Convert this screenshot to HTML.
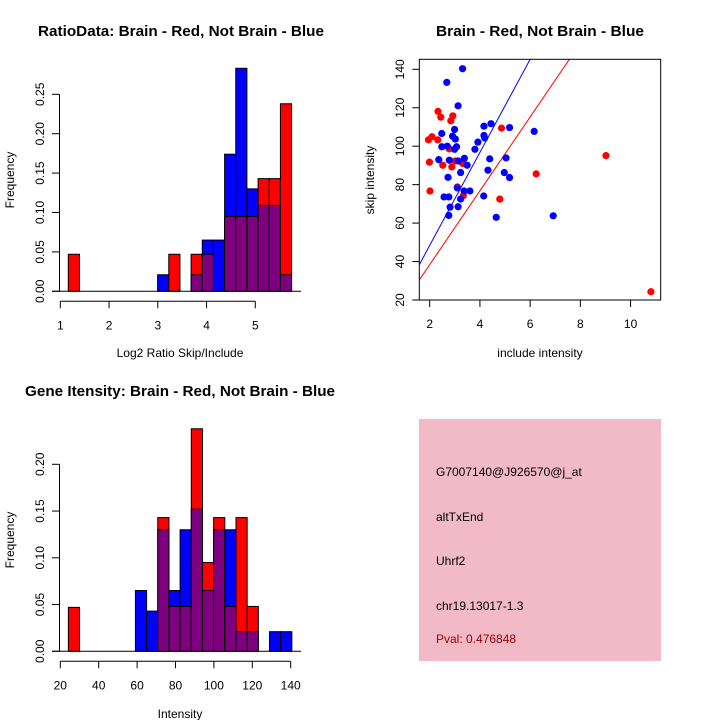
<!DOCTYPE html>
<html><head><meta charset="utf-8"><style>
html,body{margin:0;padding:0;background:#fff}
svg{display:block}
text{font-family:"Liberation Sans",sans-serif;font-size:12px;fill:#000}
.t{font-weight:bold;font-size:15px}
</style></head><body>
<svg id="s" width="720" height="720" viewBox="0 0 720 720">
<rect x="0" y="0" width="720" height="720" fill="#fff"/>
<text class="t" x="181" y="36" text-anchor="middle" textLength="286" lengthAdjust="spacingAndGlyphs">RatioData: Brain - Red, Not Brain - Blue</text>
<text x="180" y="357" text-anchor="middle">Log2 Ratio Skip/Include</text>
<text x="0" y="0" transform="translate(14,180) rotate(-90)" text-anchor="middle">Frequency</text>
<text class="t" x="540" y="36" text-anchor="middle" textLength="208" lengthAdjust="spacingAndGlyphs">Brain - Red, Not Brain - Blue</text>
<text x="540" y="357" text-anchor="middle">include intensity</text>
<text x="0" y="0" transform="translate(374,180) rotate(-90)" text-anchor="middle">skip intensity</text>
<text class="t" x="180" y="396" text-anchor="middle" textLength="310" lengthAdjust="spacingAndGlyphs">Gene Itensity: Brain - Red, Not Brain - Blue</text>
<text x="180" y="718" text-anchor="middle">Intensity</text>
<text x="0" y="0" transform="translate(14,540) rotate(-90)" text-anchor="middle">Frequency</text>
<g>
<rect x="419" y="419" width="242" height="242" fill="#f2b9c7"/>
<text x="436" y="476">G7007140@J926570@j_at</text>
<text x="436" y="521">altTxEnd</text>
<text x="436" y="565">Uhrf2</text>
<text x="436" y="610">chr19.13017-1.3</text>
<text x="436" y="643" style="fill:#a00000">Pval: 0.476848</text>
</g>
</svg>
<script>
// Ratio histogram data
const ratioBinStart = 1.164, ratioBinWidth = 0.229;
const ratioRed  = [0.047,0,0,0,0,0,0,0,0,0.047,0,0.047,0.047,0,0.095,0.095,0.095,0.143,0.143,0.238];
const ratioBlue = [0,0,0,0,0,0,0,0,0.021,0,0,0.021,0.065,0.065,0.174,0.283,0.130,0.109,0.109,0.021];
const ratioXTicks = [1,2,3,4,5];
const ratioYTicks = ["0.00","0.05","0.10","0.15","0.20","0.25"];
// Intensity histogram data
const intBinStart = 24.2, intBinWidth = 5.82;
const intRed  = [0.047,0,0,0,0,0,0,0,0.143,0.048,0.048,0.238,0.095,0.143,0.048,0.143,0.048,0,0,0];
const intBlue = [0,0,0,0,0,0,0.065,0.043,0.130,0.065,0.130,0.152,0.065,0.130,0.130,0.021,0.021,0,0.021,0.021];
const intXTicks = [20,40,60,80,100,120,140];
const intYTicks = ["0.00","0.05","0.10","0.15","0.20"];
// Scatter data
const blueInclude = [2.68,3.31,3.13,2.48,2.99,2.91,3.02,2.48,2.70,3.07,2.99,2.36,2.78,3.13,3.38,3.49,3.23,2.73,3.10,2.57,2.76,3.23,2.81,3.13,2.76,3.37,3.60,3.80,3.92,4.16,4.16,4.19,4.44,5.18,4.39,4.32,4.15,4.65,5.04,4.97,5.18,6.16,6.92];
const blueSkip = [133.2,140.3,121,106.6,108.7,105.2,103.7,99.7,100,99.7,98.4,93,92.7,92.3,93.7,90.1,86.3,83.8,78.3,73.6,73.6,72.5,68.3,68.5,64,76.7,76.7,98.4,102.1,110.4,105.6,104.3,111.7,109.7,93.4,87.5,74.1,63,93.9,86.3,83.7,107.7,63.8];
const redInclude = [1.95,2.09,2.32,2.33,2.44,2.84,2.92,1.99,2.01,2.52,2.78,2.88,3.01,3.31,3.10,3.34,4.86,4.79,6.24,9.02,10.81];
const redSkip = [103.3,104.9,103.3,118.1,115.1,113.2,115.8,91.7,76.7,90.1,98.6,89.2,92.3,91,78.8,74.3,109.4,72.5,85.6,95.1,24.3];
const lineSlopes = [24.2,19.2];
const lineColors = ["#0000ff","#ff0000"];
const scXTicks = [2,4,6,8,10];
const scYTicks = [20,40,60,80,100,120,140];

const NS="http://www.w3.org/2000/svg", svg=document.getElementById('s');
function mk(tag,attrs,parent){const e=document.createElementNS(NS,tag);for(const k in attrs)e.setAttribute(k,attrs[k]);(parent||svg).appendChild(e);return e;}

function hist(cfg){
  const g=mk('g',{});
  
  
  const X=v=>cfg.x0+(v-cfg.xv0)*cfg.xs, Y=v=>cfg.base-v*cfg.ys;
  mk('line',{x1:52,x2:301,y1:cfg.base,y2:cfg.base,stroke:'#000','stroke-width':1},g);
  cfg.red.forEach((r,i)=>{
    const b=cfg.blue[i]; const x1=X(cfg.start+i*cfg.w), x2=X(cfg.start+(i+1)*cfg.w);
    const hi=Math.max(r,b), lo=Math.min(r,b);
    if(hi>0){
      const e=mk('rect',{x:x1,y:Y(hi),width:x2-x1,height:cfg.base-Y(hi),fill:r>=b?'#ff0000':'#0000ff',stroke:'#000','stroke-width':1},g);
      
      
    }
    if(lo>0){
      const e=mk('rect',{x:x1,y:Y(lo),width:x2-x1,height:cfg.base-Y(lo),fill:'#7f007f',stroke:'#000','stroke-width':1},g);
      
      
    }
  });
  const ya=mk('g',{},g);
  
  
  const yv=cfg.yt.map(Number);
  mk('line',{x1:59.5,x2:59.5,y1:Y(yv[0]),y2:Y(yv[yv.length-1]),stroke:'#000'},ya);
  cfg.yt.forEach(t=>{const y=Y(Number(t));mk('line',{x1:52,x2:59.5,y1:y,y2:y,stroke:'#000'},ya);
    const tx=mk('text',{transform:`translate(44,${y}) rotate(-90)`,'text-anchor':'middle'},ya);tx.textContent=t;});
  const xa=mk('g',{},g);
  
  
  const ay=cfg.base+10;
  mk('line',{x1:X(cfg.xt[0]),x2:X(cfg.xt[cfg.xt.length-1]),y1:ay,y2:ay,stroke:'#000'},xa);
  cfg.xt.forEach(t=>{const x=X(t);mk('line',{x1:x,x2:x,y1:ay,y2:ay+7,stroke:'#000'},xa);
    const tx=mk('text',{x:x,y:ay+28,'text-anchor':'middle'},xa);tx.textContent=t;});
}
hist({name:'ratio-histogram',red:ratioRed,blue:ratioBlue,start:ratioBinStart,w:ratioBinWidth,x0:60.3,xv0:1,xs:48.75,base:291.3,ys:788,xt:ratioXTicks,yt:ratioYTicks});
hist({name:'intensity-histogram',red:intRed,blue:intBlue,start:intBinStart,w:intBinWidth,x0:60.3,xv0:20,xs:1.92,base:651.3,ys:935,xt:intXTicks,yt:intYTicks});

// scatter
(function(){
  const L=419.3,R=660.7,T=59.3,B=300;
  const xmin=1.585,xmax=11.2,ymin=20,ymax=145.2;
  const X=v=>L+(v-xmin)/(xmax-xmin)*(R-L), Y=v=>B-(v-ymin)/(ymax-ymin)*(B-T);
  const g=mk('g',{});
  
  
  const cp=mk('clipPath',{id:'cp'},g);
  mk('rect',{x:L,y:T,width:R-L,height:B-T},cp);
  lineSlopes.forEach((s,i)=>{
    const e=mk('line',{x1:X(xmin),y1:Y(s*xmin),x2:X(xmax),y2:Y(s*xmax),stroke:lineColors[i],'stroke-width':1,'clip-path':'url(#cp)'},g);
    
    
  });
  redInclude.forEach((v,i)=>{
    const e=mk('circle',{cx:X(v),cy:Y(redSkip[i]),r:3.6,fill:'#ff0000'},g);
    
    
  });
  blueInclude.forEach((v,i)=>{
    const e=mk('circle',{cx:X(v),cy:Y(blueSkip[i]),r:3.6,fill:'#0000ff'},g);
    
    
  });
  mk('rect',{x:L,y:T,width:R-L,height:B-T,fill:'none',stroke:'#000'},g);
  const xa=mk('g',{},g);
  
  
  scXTicks.forEach(t=>{const x=X(t);mk('line',{x1:x,x2:x,y1:B,y2:B+7,stroke:'#000'},xa);
    const tx=mk('text',{x:x,y:B+28,'text-anchor':'middle'},xa);tx.textContent=t;});
  const ya=mk('g',{},g);
  
  
  scYTicks.forEach(t=>{const y=Y(t);mk('line',{x1:L-7,x2:L,y1:y,y2:y,stroke:'#000'},ya);
    const tx=mk('text',{transform:`translate(404,${y}) rotate(-90)`,'text-anchor':'middle'},ya);tx.textContent=t;});
})();
</script>
</body></html>
